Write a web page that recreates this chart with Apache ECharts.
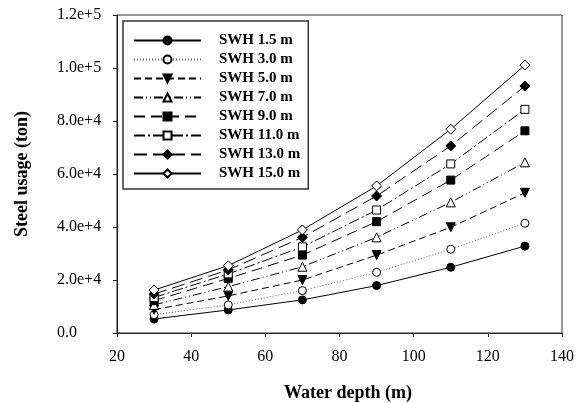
<!DOCTYPE html>
<html><head><meta charset="utf-8">
<script src="https://cdn.jsdelivr.net/npm/echarts@6/dist/echarts.min.js"></script>
<style>html,body{margin:0;padding:0;background:#fff}#c{width:579px;height:403px}</style>
</head><body><div id="c"></div>
<script>
const depths = [30, 50, 70, 90, 110, 130];
const seriesNames = ['SWH 1.5 m','SWH 3.0 m','SWH 5.0 m','SWH 7.0 m','SWH 9.0 m','SWH 11.0 m','SWH 13.0 m','SWH 15.0 m'];
const swh1_5  = [5300, 8700, 12500, 17900, 24800, 32800];
const swh3_0  = [6900, 10600, 16000, 22900, 31600, 41400];
const swh5_0  = [8800, 14000, 20000, 29400, 39900, 52900];
const swh7_0  = [10600, 17500, 25000, 36100, 49300, 64400];
const swh9_0  = [12200, 20600, 29400, 42000, 57700, 76300];
const swh11_0 = [13400, 22300, 32500, 46400, 63800, 84400];
const swh13_0 = [14700, 23800, 36100, 51700, 70600, 93200];
const swh15_0 = [16200, 25400, 38900, 55500, 76900, 101100];
const yTicks = [0, 20000, 40000, 60000, 80000, 100000, 120000];
const xTicks = [20, 40, 60, 80, 100, 120, 140];

const values = [swh1_5, swh3_0, swh5_0, swh7_0, swh9_0, swh11_0, swh13_0, swh15_0];
const downTri = 'path://M0,0 L10,0 L5,9 Z';
const styles = [
  {symbol:'circle', size:8, fill:'#000', dash:'solid', lc:'#000'},
  {symbol:'circle', size:8, fill:'#fff', dash:[1,2], lc:'#666'},
  {symbol:downTri, size:9, fill:'#000', dash:[7,4], lc:'#000'},
  {symbol:'triangle', size:9, fill:'#fff', dash:[9,3,1,3,1,3], lc:'#000'},
  {symbol:'rect', size:8, fill:'#000', dash:[11,6], lc:'#000'},
  {symbol:'rect', size:8, fill:'#fff', dash:[11,3,2,3], lc:'#000'},
  {symbol:'diamond', size:10, fill:'#000', dash:[13,6], lc:'#000'},
  {symbol:'diamond', size:10, fill:'#fff', dash:'solid', lc:'#000'}
];

const serif = '"Liberation Serif", "Times New Roman", serif';
const series = seriesNames.map((n, i) => ({
  name: n,
  type: 'line',
  data: depths.map((d, j) => [d, values[i][j]]),
  symbol: styles[i].symbol,
  symbolSize: styles[i].size,
  showAllSymbol: true,
  z: 10 + i,
  lineStyle: {color: styles[i].lc, width: 1, type: styles[i].dash},
  itemStyle: {color: styles[i].fill, borderColor: '#000', borderWidth: 1, opacity: 1},
  emphasis: {disabled: true},
  animation: false
}));

const chart = echarts.init(document.getElementById('c'));
chart.setOption({
  animation: false,
  backgroundColor: '#fff',
  grid: {left: 117, right: 17, top: 15, bottom: 70, show: true, borderColor: '#333', borderWidth: 1},
  xAxis: {
    type: 'value', min: 20, max: 140, interval: 20,
    axisLine: {lineStyle: {color: '#222', width: 1.2}},
    axisTick: {show: true, length: 4, lineStyle: {color: '#222'}},
    splitLine: {show: false},
    axisLabel: {color: '#000', fontFamily: serif, fontSize: 16, margin: 16,
      formatter: v => xTicks.includes(v) ? String(v) : ''}
  },
  yAxis: {
    type: 'value', min: 0, max: 120000, interval: 20000,
    axisLine: {show: true, lineStyle: {color: '#222', width: 1.2}},
    axisTick: {show: true, length: 4, lineStyle: {color: '#222'}},
    splitLine: {show: false},
    axisLabel: {color: '#000', fontFamily: serif, fontSize: 16, margin: 60, align: 'left',
      formatter: v => yTicks.includes(v) ? (v === 0 ? '0.0' : v.toExponential(1)) : ''}
  },
  legend: {
    orient: 'vertical', left: 123, top: 21,
    data: seriesNames,
    itemWidth: 67, itemHeight: 10, itemGap: 4,
    padding: [12, 8, 8, 10],
    borderColor: '#333', borderWidth: 1.5, backgroundColor: '#fff',
    textStyle: {color: '#000', fontFamily: serif, fontWeight: 'bold', fontSize: 15, padding: [0, 0, 0, 13]},
    selectedMode: false
  },
  graphic: [
    {type: 'text', x: 348, y: 393, style: {text: 'Water depth (m)', font: 'bold 18px ' + serif, fill: '#000', textAlign: 'center', textVerticalAlign: 'middle'}},
    {type: 'text', x: 22, y: 174, rotation: Math.PI / 2, style: {text: 'Steel usage (ton)', font: 'bold 18px ' + serif, fill: '#000', textAlign: 'center', textVerticalAlign: 'middle'}}
  ],
  series: series
});
</script>
</body></html>
